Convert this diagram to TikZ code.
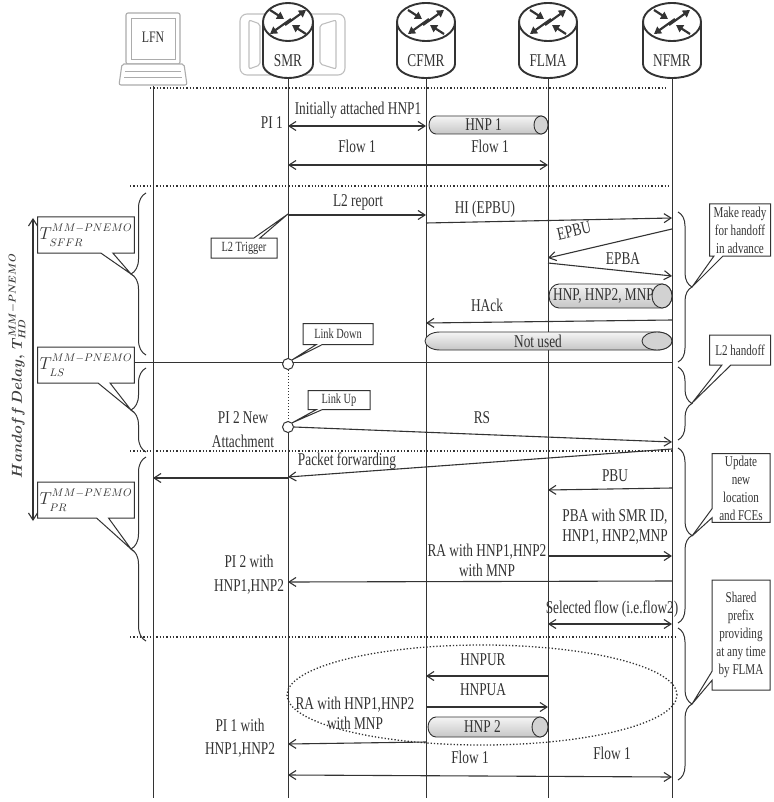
\documentclass[tikz,border=0pt]{standalone}
\usepackage{fontspec}
\setmainfont{Liberation Serif}[FakeStretch=0.74]
\usetikzlibrary{arrows.meta,shapes.callouts,decorations.pathreplacing}
\definecolor{ink}{gray}{0.2}
\tikzset{
  life/.style={ink, line width=1pt},
  msg/.style={ink, line width=1.1pt, -{Straight Barb[length=7pt,width=9pt]}},
  dmsg/.style={ink, line width=1.1pt, {Straight Barb[length=7pt,width=9pt]}-{Straight Barb[length=7pt,width=9pt]}},
  dotline/.style={ink, line width=1.3pt, dotted},
  lbl/.style={text=ink, font=\fontsize{18}{20}\selectfont, inner sep=0pt, align=center},
  note/.style={rectangle callout, draw=ink, line width=1pt, fill=white, text=ink, align=center, inner sep=2pt, callout pointer width=9pt, font=\fontsize{15}{18}\selectfont},
  smallnote/.style={note, font=\fontsize{14}{15}\selectfont, callout pointer width=6pt},
  tnote/.style={note, minimum width=85pt, minimum height=36pt, font=\fontsize{16}{17}\selectfont, callout pointer width=12pt},
  tubeline/.style={draw=ink, line width=0.9pt},
  routerline/.style={draw=ink, line width=1.9pt},
  rarrow/.style={ink, line width=2.2pt, -{Triangle[length=7pt,width=8pt]}},
  brl/.style={ink, line width=1pt, decorate, decoration={brace, amplitude=15pt}},
  brr/.style={ink, line width=1pt, decorate, decoration={brace, amplitude=14pt}},
  linkpt/.style={circle, draw=ink, line width=1pt, fill=white, minimum size=11pt, inner sep=0pt},
}
\newcommand{\tdelay}[1]{$T^{\raisebox{2pt}{$\scriptstyle MM-PNEMO$}}_{\raisebox{-2pt}{$\scriptstyle #1$}}$}
\begin{document}
\begin{tikzpicture}[x=1pt,y=-1pt]
\useasboundingbox (0,0) rectangle (773,802);
\fill[white] (0,0) rectangle (773,802);

\draw[gray!50, line width=1.1pt, rounded corners=7pt] (240,14) rectangle (345,75);
\draw[gray!50, line width=1.1pt, rounded corners=2pt] (249,20) -- (260,24) -- (260,65) -- (249,69) -- cycle;
\draw[gray!50, line width=1.1pt, rounded corners=2pt] (336,20) -- (320,25) -- (320,64) -- (336,69) -- cycle;

\draw[gray!65, line width=1.1pt, rounded corners=2pt, fill=white] (126,13) rectangle (180,64);
\draw[gray!65, line width=0.9pt] (131,18) rectangle (175,59);
\draw[gray!65, line width=1.1pt, rounded corners=2pt, fill=white] (122,64) -- (184,64) -- (187,85) -- (119,85) -- cycle;
\draw[gray!65, line width=0.9pt] (125,71) -- (181,71);
\draw[gray!65, line width=0.9pt] (124,77) -- (182,77);
\node[lbl, font=\fontsize{16}{16}\selectfont] (lfn-lbl) at (153,37) {LFN};
\coordinate (lfn) at (153,86);

\foreach \nm/\xc/\w/\txt in {smr/288/25/SMR, cfmr/426/29/CFMR, flma/548/29/FLMA, nfmr/672/29/NFMR}{
  \coordinate (\nm) at (\xc,41);
  \draw[routerline, fill=white] (\xc-\w,22) -- (\xc-\w,64) arc[start angle=180, end angle=360, x radius=\w pt, y radius=14pt] -- (\xc+\w,22);
  \draw[routerline, fill=white] (\xc,22) ellipse [x radius=\w pt, y radius=19pt];
  \draw[rarrow] (\xc-3,25) -- (\xc+18,10);
  \draw[rarrow] (\xc+3,19) -- (\xc-18,34);
  \draw[rarrow] (\xc-18,10) -- (\xc-4,19);
  \draw[rarrow] (\xc+18,34) -- (\xc+4,25);
  \node[lbl, font=\fontsize{18}{18}\selectfont] (\nm-lbl) at (\xc,61) {\txt};
}

\draw[life] (lfn) -- (lfn |- 0,798);
\draw[life] (smr |- 0,79) -- (smr |- 0,364);
\draw[ink, line width=1pt, dotted] (smr |- 0,364) -- (smr |- 0,427);
\draw[life] (smr |- 0,427) -- (smr |- 0,798);
\draw[life] (cfmr |- 0,79) -- (cfmr |- 0,798);
\draw[life] (flma |- 0,79) -- (flma |- 0,798);
\draw[life] (nfmr |- 0,79) -- (nfmr |- 0,798);

\draw[dotline] (150,88) -- (665,88);
\draw[dotline] (130,186) -- (670,186);
\draw[dotline] (130,451) -- (672,451);
\draw[dotline] (130,637) -- (675,637);

\node[lbl, anchor=east] (pi1) at (283,123) {PI 1};
\node[lbl] (init-lbl) at (358,110) {Initially attached HNP1};
\draw[dmsg] (smr |- 0,126) -- (cfmr |- 0,126);
\node[lbl] (flow-a) at (357,146) {Flow 1};
\node[lbl] (flow-b) at (490,146) {Flow 1};
\draw[dmsg] (smr |- 0,165) -- (flma |- 0,165);

\node[lbl] (l2rep-lbl) at (358,202) {L2 report};
\draw[msg] (smr |- 0,215) -- (cfmr |- 0,215);
\node[lbl] (hi-lbl) at (485,209) {HI (EPBU)};
\draw[msg] (cfmr |- 0,223) -- (nfmr |- 0,218);
\node[lbl, rotate=13] (epbu-lbl) at (574,231) {EPBU};
\draw[msg] (nfmr |- 0,229) -- (flma |- 0,258);
\node[lbl] (epba-lbl) at (623,259) {EPBA};
\draw[msg] (flma |- 0,263) -- (nfmr |- 0,276);
\node[lbl] (hack-lbl) at (487,305) {HAck};
\draw[msg] (nfmr |- 0,320) -- (cfmr |- 0,323);

\foreach \nm/\xa/\xb/\yc/\ry/\rx/\txt in {hnp1/429/548/125/9/7/{HNP 1}, hnpmnp/549/672/296/12/10/{HNP, HNP2, MNP}, notused/425/672/341/9/15/{Not used}, hnp2/428/548/727/10/8/{HNP 2}}{
  \draw[tubeline, top color=gray!8, bottom color=gray!45] (\xa+\rx,\yc-\ry) arc[start angle=90, end angle=270, x radius=\rx pt, y radius=\ry pt] -- (\xb-\rx,\yc+\ry) arc[start angle=-90, end angle=90, x radius=\rx pt, y radius=\ry pt] -- cycle;
  \draw[tubeline, fill=gray!35] (\xb-\rx,\yc) ellipse [x radius=\rx pt, y radius=\ry pt];
  \node[lbl] (\nm) at ({(\xa+\xb)/2-\rx*0.7},\yc) {\txt};
}

\coordinate (tipl1) at (131,274);
\coordinate (tipl2) at (131,410);
\coordinate (tipl3) at (131,549);
\draw[brl] (146,355) -- (146,193);
\draw[brl] (146,452) -- (146,368);
\draw[brl] (146,641) -- (146,457);
\node[tnote, callout absolute pointer={(tipl1)}] (tsffr) at (86,235) {\tdelay{SFFR}};
\node[tnote, callout absolute pointer={(tipl2)}] (tls) at (86,365) {\tdelay{LS}};
\node[tnote, callout absolute pointer={(tipl3)}] (tpr) at (86,500) {\tdelay{PR}};
\coordinate (hdtop) at (33,218);
\coordinate (hdbot) at (33,521);
\draw[dmsg] (hdtop) -- (hdbot);
\node[rotate=90, text=gray!50!black, inner sep=0pt, font=\fontsize{14}{14}\selectfont] (hd-lbl) at (17,366) {\mbox{\boldmath$Handoff\ Delay,\ T^{MM-PNEMO}_{HD}$}};

\draw[life] (tls.east |- 0,362) -- (nfmr |- 0,362);
\node[linkpt] (ldown) at (smr |- 0,364) {};
\node[linkpt] (lup) at (smr |- 0,427) {};
\coordinate (l2t) at (smr |- 0,214);
\node[smallnote, minimum width=66pt, minimum height=20pt, callout absolute pointer={(l2t)}] (l2trig) at (244,248) {L2 Trigger};
\node[smallnote, minimum width=70pt, minimum height=21pt, callout absolute pointer={(ldown.north east)}] (ldown-n) at (338,334) {Link Down};
\node[smallnote, minimum width=62pt, minimum height=19pt, callout absolute pointer={(lup.north east)}] (lup-n) at (339,400) {Link Up};
\node[lbl, font=\fontsize{18}{24}\selectfont] (pi2new) at (243,430) {PI 2 New\\Attachment};
\node[lbl] (rs-lbl) at (482,418) {RS};
\draw[msg] (lup.east) -- (nfmr |- 0,442);

\node[lbl] (pf-lbl) at (347,461) {Packet forwarding};
\draw[msg] (nfmr |- 0,449) -- (smr |- 0,477);
\draw[msg] (smr |- 0,478) -- (lfn |- 0,478);
\node[lbl] (pbu-lbl) at (615,476) {PBU};
\draw[msg] (nfmr |- 0,488) -- (flma |- 0,490);
\node[lbl] (pba-lbl) at (615,527) {PBA with SMR ID,\\HNP1, HNP2,MNP};
\draw[msg] (flma |- 0,556) -- (nfmr |- 0,556);
\node[lbl] (ra1-lbl) at (487,560) {RA with HNP1,HNP2\\with MNP};
\draw[msg] (nfmr |- 0,581) -- (smr |- 0,582);
\node[lbl, font=\fontsize{18}{24}\selectfont] (pi2with) at (249,575) {PI 2 with\\HNP1,HNP2};
\node[lbl] (sel-lbl) at (612,609) {Selected flow (i.e.flow2)};
\draw[dmsg] (flma |- 0,624) -- (nfmr |- 0,624);

\draw[dotline] (482,695) ellipse [x radius=195pt, y radius=50pt];
\node[lbl] (hnpur-lbl) at (483,660) {HNPUR};
\draw[msg] (flma |- 0,676) -- (cfmr |- 0,676);
\node[lbl] (hnpua-lbl) at (483,690) {HNPUA};
\draw[msg] (cfmr |- 0,707) -- (flma |- 0,707);
\node[lbl] (ra2-lbl) at (355,713) {RA with HNP1,HNP2\\with MNP};
\draw[msg] (cfmr |- 0,742) -- (smr |- 0,744);
\node[lbl, font=\fontsize{18}{23}\selectfont] (pi1with) at (240,738) {PI 1 with\\HNP1,HNP2};
\node[lbl] (flow-c) at (470,757) {Flow 1};
\node[lbl] (flow-d) at (612,753) {Flow 1};
\draw[dmsg] (smr |- 0,775) -- (nfmr |- 0,777);

\coordinate (tipr1) at (692,287);
\coordinate (tipr2) at (692,403);
\coordinate (tipr3) at (692,536);
\coordinate (tipr4) at (692,704);
\draw[brr] (678,212) -- (678,362);
\draw[brr] (678,367) -- (678,440);
\draw[brr] (678,448) -- (678,623);
\draw[brr] (678,628) -- (678,780);
\node[note, minimum width=61pt, minimum height=52pt, callout absolute pointer={(tipr1)}] (ready-n) at (740,230) {Make ready\\for handoff\\in advance};
\node[note, minimum width=61pt, minimum height=30pt, callout absolute pointer={(tipr2)}] (l2h-n) at (740,350) {L2 handoff};
\node[note, minimum width=58pt, minimum height=66pt, callout absolute pointer={(tipr3)}] (upd-n) at (741,488) {Update\\new\\location\\and FCEs};
\node[note, minimum width=58pt, minimum height=110pt, callout absolute pointer={(tipr4)}] (shr-n) at (741,635) {Shared\\prefix\\providing\\at any time\\by FLMA};
\end{tikzpicture}
\end{document}
